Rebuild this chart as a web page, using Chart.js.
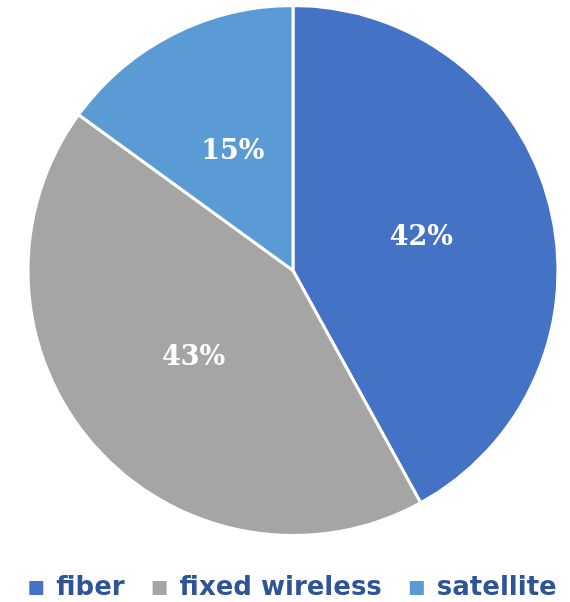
<!DOCTYPE html>
<html>
<head>
<meta charset="utf-8">
<script src="https://cdn.jsdelivr.net/npm/chart.js@4"></script>
<style>
  html, body { margin: 0; padding: 0; background: #fff; overflow: hidden; }
  #wrap { width: 586px; height: 617px; margin-top: -6px; }
</style>
</head>
<body>
<div id="wrap"><canvas id="pie"></canvas></div>
<script>
// internet access type share
const categories = ['fiber', 'fixed wireless', 'satellite'];
const shares = [42, 43, 15];
const colors = ['#4472C4', '#A5A5A5', '#5B9BD5'];
const legendColor = '#2F5597';

// draws the percentage in the middle of each slice
const sliceLabels = {
    id: 'sliceLabels',
    afterDatasetsDraw(chart) {
        const ctx = chart.ctx;
        const meta = chart.getDatasetMeta(0);
        ctx.save();
        ctx.fillStyle = '#ffffff';
        ctx.font = 'bold 27px "DejaVu Serif", serif';
        ctx.textAlign = 'center';
        ctx.textBaseline = 'middle';
        meta.data.forEach((arc, i) => {
            const p = arc.tooltipPosition();
            ctx.fillText(shares[i] + '%', p.x, p.y);
        });
        ctx.restore();
    }
};

new Chart(document.getElementById('pie'), {
    type: 'pie',
    data: {
        labels: categories,
        datasets: [{
            data: shares,
            backgroundColor: colors,
            borderColor: '#ffffff',
            borderWidth: 3,
            radius: 265
        }]
    },
    options: {
        responsive: true,
        maintainAspectRatio: false,
        animation: false,
        layout: { padding: 0 },
        plugins: {
            tooltip: { enabled: false },
            legend: {
                position: 'bottom',
                labels: {
                    color: legendColor,
                    font: { family: '"DejaVu Sans", sans-serif', size: 26, weight: 'bold' },
                    boxWidth: 14,
                    boxHeight: 14,
                    padding: 28,
                    generateLabels(chart) {
                        return categories.map((c, i) => ({
                            text: c,
                            fillStyle: colors[i],
                            strokeStyle: colors[i],
                            fontColor: legendColor,
                            lineWidth: 0,
                            index: i
                        }));
                    }
                }
            }
        }
    },
    plugins: [sliceLabels]
});
</script>
</body>
</html>
